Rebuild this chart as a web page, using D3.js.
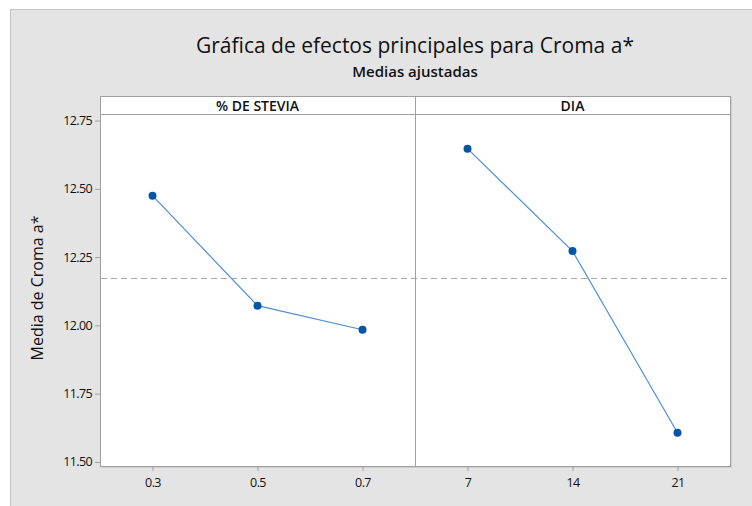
<!DOCTYPE html>
<html>
<head>
<meta charset="utf-8">
<script src="https://cdn.jsdelivr.net/npm/d3@7"></script>
<style>
    body { margin: 0; background: #fff; }
    svg text { font-family: "Open Sans", "Noto Sans", sans-serif; fill: #111; }
</style>
</head>
<body>
<div id="chart"></div>
<script>
// datos
var steviaLevels = ["0.3", "0.5", "0.7"];
var steviaMeans = [12.475, 12.072, 11.984];
var diaLevels = ["7", "14", "21"];
var diaMeans = [12.647, 12.272, 11.607];
var panelTitles = ["% DE STEVIA", "DIA"];
var yTicks = [11.50, 11.75, 12.00, 12.25, 12.50, 12.75];
var grandMean = 12.175;

const W = 752, H = 506;
const margin = {top: 114, left: 100, right: 22, bottom: 40},
    plotW = W - margin.left - margin.right,
    plotH = H - margin.top - margin.bottom,
    stripH = 18;

const svg = d3.select("#chart")
    .append("svg")
    .attr("width", W)
    .attr("height", H);

// fondo gris
svg.append("rect")
    .attr("x", 10.5).attr("y", 9.5)
    .attr("width", W).attr("height", H)
    .attr("fill", "#e4e4e4")
    .attr("stroke", "#c4c4c4");

svg.append("text")
    .attr("x", margin.left + plotW / 2)
    .attr("y", 53)
    .attr("text-anchor", "middle")
    .style("font-size", "21px")
    .text("Gráfica de efectos principales para Croma a*");

svg.append("text")
    .attr("x", margin.left + plotW / 2)
    .attr("y", 77)
    .attr("text-anchor", "middle")
    .style("font-size", "15px")
    .style("font-weight", "600")
    .text("Medias ajustadas");

var yScale = d3.scaleLinear()
    .domain([11.485, 12.774])
    .range([plotH, 0]);

var g = svg.append("g")
    .attr("transform", "translate(" + margin.left + "," + margin.top + ")");

// sombra
g.append("rect")
    .attr("x", 1.5).attr("y", -stripH + 1.5)
    .attr("width", plotW).attr("height", plotH + stripH)
    .attr("fill", "none")
    .attr("stroke", "#cfcfcf");

g.append("rect")
    .attr("x", 0.5).attr("y", -stripH + 0.5)
    .attr("width", plotW).attr("height", plotH + stripH)
    .attr("fill", "#fff")
    .attr("stroke", "#a0a0a0");

var panels = [
    {levels: steviaLevels, means: steviaMeans},
    {levels: diaLevels, means: diaMeans}
];

var panelScale = d3.scaleBand()
    .domain(d3.range(panels.length))
    .range([0, plotW]);

// eje y
g.append("g")
    .attr("class", "y-axis")
    .call(d3.axisLeft(yScale)
        .tickValues(yTicks)
        .tickFormat(d3.format(".2f"))
        .tickSizeOuter(0)
        .tickSize(5)
        .tickPadding(3))
    .call(function(a){
        a.select(".domain").remove();
        a.selectAll(".tick line").attr("stroke", "#a0a0a0");
        a.selectAll(".tick text").style("font-size", "12.5px").attr("letter-spacing", "-0.6px");
    });

g.append("text")
    .attr("transform", "translate(-57," + (plotH / 2 - 2) + ") rotate(-90)")
    .attr("text-anchor", "middle")
    .style("font-size", "16px")
    .text("Media de Croma a*");

// separador de la franja
g.append("line")
    .attr("x1", 0).attr("x2", plotW)
    .attr("y1", 0.5).attr("y2", 0.5)
    .attr("stroke", "#a0a0a0");

// media general
g.append("line")
    .attr("x1", 1).attr("x2", plotW)
    .attr("y1", Math.round(yScale(grandMean)) + 0.5)
    .attr("y2", Math.round(yScale(grandMean)) + 0.5)
    .attr("stroke", "#a8a8a8")
    .attr("stroke-dasharray", "6,4");

panels.forEach(function(p, i){
    var x0 = panelScale(i);
    var xScale = d3.scalePoint()
        .domain(p.levels)
        .range([0, panelScale.bandwidth()])
        .padding(0.5);

    var pg = g.append("g").attr("transform", "translate(" + x0 + ",0)");

    if (i > 0) {
        pg.append("line")
            .attr("x1", 0.5).attr("x2", 0.5)
            .attr("y1", -stripH).attr("y2", plotH)
            .attr("stroke", "#a0a0a0");
    }

    pg.append("text")
        .attr("x", panelScale.bandwidth() / 2)
        .attr("y", -3)
        .attr("text-anchor", "middle")
        .style("font-size", "14px")
        .style("font-weight", "600")
        .text(panelTitles[i]);

    pg.append("g")
        .attr("transform", "translate(0," + plotH + ")")
        .call(d3.axisBottom(xScale).tickSize(5).tickPadding(7).tickSizeOuter(0))
        .call(function(a){
            a.select(".domain").remove();
            a.selectAll(".tick line").attr("stroke", "#a0a0a0").attr("y1", 1);
            a.selectAll(".tick text").style("font-size", "12.5px").attr("letter-spacing", "-0.6px");
        });

    var pts = p.levels.map(function(l, j){ return {level: l, mean: p.means[j]}; });

    pg.append("path")
        .datum(pts)
        .attr("fill", "none")
        .attr("stroke", "#4f8fd4")
        .attr("stroke-width", 1.2)
        .attr("d", d3.line()
            .x(function(d){ return xScale(d.level); })
            .y(function(d){ return yScale(d.mean); }));

    pg.selectAll(".pt")
        .data(pts)
        .enter().append("circle")
        .attr("class", "pt")
        .attr("cx", function(d){ return xScale(d.level); })
        .attr("cy", function(d){ return yScale(d.mean); })
        .attr("r", 4)
        .attr("fill", "#0455a5");
});
</script>
</body>
</html>
